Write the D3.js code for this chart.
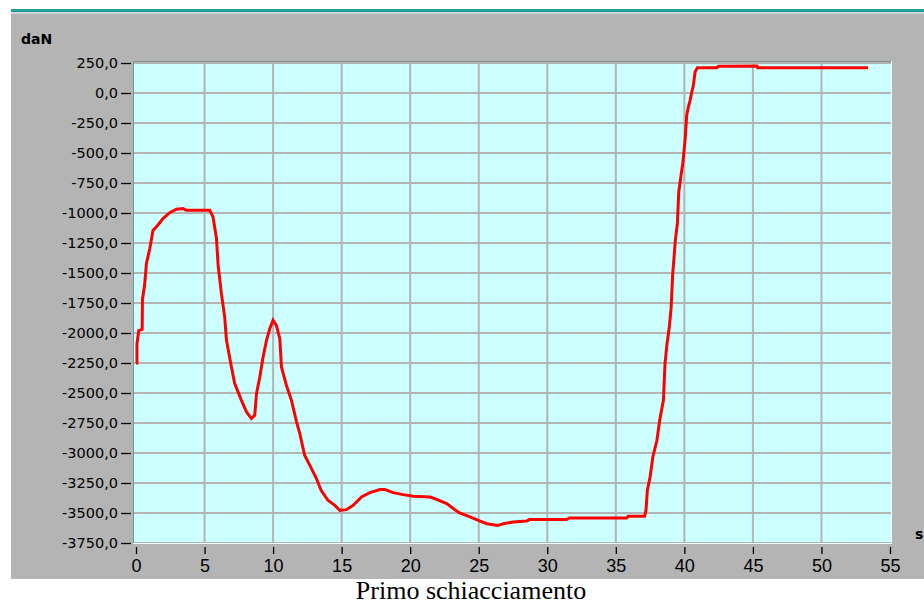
<!DOCTYPE html>
<html>
<head>
<meta charset="utf-8">
<script src="https://cdn.jsdelivr.net/npm/d3@7"></script>
<style>
  html, body { margin: 0; padding: 0; background: #ffffff; }
  svg { display: block; }
</style>
</head>
<body>
<svg width="924" height="607"></svg>
<script>
// tick values
var yTicks = [250, 0, -250, -500, -750, -1000, -1250, -1500, -1750, -2000,
              -2250, -2500, -2750, -3000, -3250, -3500, -3750];
var xTicks = [0, 5, 10, 15, 20, 25, 30, 35, 40, 45, 50, 55];

// force curve: time (s), force (daN)
var times = [0, 0.07, 0.07, 0.2, 0.45, 0.47, 0.63, 0.76, 1.0, 1.24, 1.6, 1.97, 2.46, 2.95, 3.43, 3.67,
  5.38, 5.62, 5.87, 5.99, 6.23, 6.47, 6.6, 6.96, 7.2, 7.69, 8.06, 8.42, 8.66, 8.79, 9.03, 9.27,
  9.52, 9.76, 10.0, 10.24, 10.49, 10.61, 10.98, 11.34, 11.71, 11.95, 12.3, 12.8, 13.16, 13.5,
  14.0, 14.5, 14.87, 15.35, 15.84, 16.45, 17.06, 17.79, 18.15, 18.76, 19.49, 20.22, 21.46,
  21.93, 22.66, 23.14, 23.6, 24.36, 25.1, 25.6, 26.4, 26.8, 27.5, 28.5, 28.7, 31.4, 31.6,
  35.8, 35.9, 37.1, 37.2, 37.3, 37.5, 37.7, 38.0, 38.2, 38.47, 38.59, 38.72, 38.9, 39.03,
  39.15, 39.25, 39.34, 39.49, 39.59, 39.74, 39.88, 39.98, 40.07, 40.17, 40.29, 40.42, 40.54,
  40.66, 40.78, 40.95, 42.36, 42.48, 45.3, 45.35, 53.4];
var forces = [-2250, -2250, -2090, -1980, -1970, -1720, -1600, -1420, -1300, -1145, -1100, -1047, -997, -969, -963, -977,
  -977, -1033, -1213, -1436, -1672, -1867, -2061, -2283, -2422, -2561, -2658, -2713, -2686, -2505, -2366, -2200,
  -2061, -1963, -1894, -1936, -2047, -2283, -2440, -2561, -2740, -2839, -3019, -3130, -3213, -3311,
  -3394, -3436, -3478, -3472, -3436, -3367, -3330, -3305, -3305, -3330, -3347, -3361, -3367,
  -3386, -3422, -3463, -3500, -3533, -3567, -3589, -3603, -3589, -3575, -3567, -3555, -3555, -3542,
  -3542, -3528, -3528, -3478, -3311, -3200, -3033, -2894, -2728, -2561, -2256, -2103, -1950, -1797,
  -1505, -1367, -1228, -1089, -825, -700, -589, -478, -367, -186, -117, -61, 8,
  64, 175, 211, 211, 222, 225, 211, 211];

var svg = d3.select("svg");

// layout
var plotLeft = 133, plotRight = 892, plotTop = 61, plotBottom = 544;

var xScale = d3.scaleLinear().domain([0, 55]).range([136, 890]);
var yScale = d3.scaleLinear().domain([-3750, 250]).range([543, 63]);

// top teal rule and gray panel
svg.append("rect").attr("x", 11).attr("y", 9).attr("width", 913).attr("height", 3).attr("fill", "#20a09c");
svg.append("rect").attr("x", 11).attr("y", 12).attr("width", 913).attr("height", 2).attr("fill", "#d4d4d4");
svg.append("rect").attr("x", 11).attr("y", 14).attr("width", 913).attr("height", 565).attr("fill", "#b4b4b4");

// plot background
svg.append("rect")
  .attr("x", plotLeft).attr("y", plotTop)
  .attr("width", plotRight - plotLeft).attr("height", plotBottom - plotTop)
  .attr("fill", "#ccffff");

// grid
var grid = svg.append("g").attr("stroke", "#b4b4b4").attr("stroke-width", 2);
grid.selectAll("line.h").data(yTicks).enter().append("line")
  .attr("x1", plotLeft).attr("x2", plotRight)
  .attr("y1", function (d) { return yScale(d); })
  .attr("y2", function (d) { return yScale(d); });
grid.selectAll("line.v").data(xTicks.filter(function (d) { return d > 0 && d < 55; })).enter().append("line")
  .attr("y1", plotTop).attr("y2", plotBottom)
  .attr("x1", function (d) { return xScale(d); })
  .attr("x2", function (d) { return xScale(d); });

// sunken border
svg.append("line").attr("x1", plotLeft + 0.5).attr("x2", plotLeft + 0.5).attr("y1", plotTop).attr("y2", plotBottom)
  .attr("stroke", "#6e9a9a").attr("stroke-width", 1);
svg.append("line").attr("x1", plotLeft).attr("x2", plotRight).attr("y1", plotTop + 0.5).attr("y2", plotTop + 0.5)
  .attr("stroke", "#7f8f8f").attr("stroke-width", 1);
svg.append("line").attr("x1", plotLeft).attr("x2", plotRight).attr("y1", plotBottom - 0.5).attr("y2", plotBottom - 0.5)
  .attr("stroke", "#e8ffff").attr("stroke-width", 1);
svg.append("line").attr("x1", plotRight - 0.5).attr("x2", plotRight - 0.5).attr("y1", plotTop).attr("y2", plotBottom)
  .attr("stroke", "#e8ffff").attr("stroke-width", 1);

// y axis
var fmt = function (d) { return d3.format(".1f")(d).replace(".", ",").replace("−", "-"); };
var yAxis = svg.append("g")
  .attr("transform", "translate(131,0)")
  .call(d3.axisLeft(yScale).tickValues(yTicks).tickFormat(fmt).tickSize(10).tickPadding(3));
yAxis.select(".domain").remove();
yAxis.selectAll(".tick line").attr("stroke", "#000").attr("stroke-width", 1.3);
yAxis.selectAll("text")
  .style("font-family", "'DejaVu Sans', sans-serif")
  .style("font-size", "14.5px")
  .attr("fill", "#000");

// x axis
var xAxis = svg.append("g")
  .attr("transform", "translate(0,547)")
  .call(d3.axisBottom(xScale).tickValues(xTicks).tickSize(7).tickPadding(5).tickSizeOuter(0));
xAxis.select(".domain").remove();
xAxis.selectAll(".tick line").attr("stroke", "#000").attr("stroke-width", 1.3);
xAxis.selectAll("text")
  .style("font-family", "'Liberation Sans', Arial, sans-serif")
  .style("font-size", "18px")
  .attr("fill", "#000");

// unit labels
svg.append("text").attr("x", 21).attr("y", 44)
  .style("font-family", "'DejaVu Sans', sans-serif").style("font-size", "14px").style("font-weight", "bold")
  .text("daN");
svg.append("text").attr("x", 915).attr("y", 539)
  .style("font-family", "'DejaVu Sans', sans-serif").style("font-size", "14px").style("font-weight", "bold")
  .text("s");

// curve
var points = times.map(function (t, i) { return [t, forces[i]]; });
var line = d3.line()
  .x(function (d) { return xScale(d[0]); })
  .y(function (d) { return yScale(d[1]); });
svg.append("path")
  .datum(points)
  .attr("d", line)
  .attr("fill", "none")
  .attr("stroke", "#ff0000")
  .attr("stroke-width", 3)
  .attr("stroke-linejoin", "miter");

// caption
svg.append("text")
  .attr("x", 471).attr("y", 599)
  .attr("text-anchor", "middle")
  .style("font-family", "'Liberation Serif', 'Times New Roman', serif")
  .style("font-size", "26px")
  .text("Primo schiacciamento");
</script>
</body>
</html>
